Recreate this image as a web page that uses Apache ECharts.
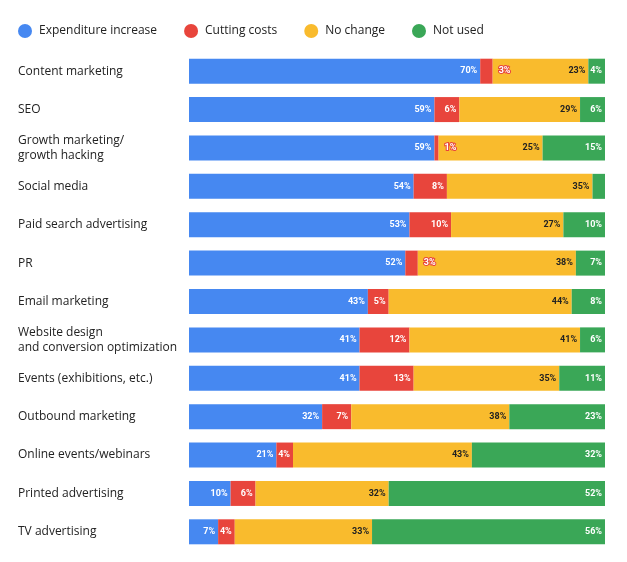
<!DOCTYPE html>
<html>
<head>
<meta charset="utf-8">
<script src="https://cdn.jsdelivr.net/npm/echarts@6/dist/echarts.min.js"></script>
<style>
  html, body { margin: 0; padding: 0; background: #fff; }
  #chart { width: 627px; height: 562px; }
</style>
</head>
<body>
<div id="chart"></div>
<script>
// categories, top to bottom
const categories = [
  'Content marketing',
  'SEO',
  'Growth marketing/\ngrowth hacking',
  'Social media',
  'Paid search advertising',
  'PR',
  'Email marketing',
  'Website design\nand conversion optimization',
  'Events (exhibitions, etc.)',
  'Outbound marketing',
  'Online events/webinars',
  'Printed advertising',
  'TV advertising'
];

const seriesNames = ['Expenditure increase', 'Cutting costs', 'No change', 'Not used'];

const increase = [70, 59, 59, 54, 53, 52, 43, 41, 41, 32, 21, 10, 7];
const cutting  = [3, 6, 1, 8, 10, 3, 5, 12, 13, 7, 4, 6, 4];
const noChange = [23, 29, 25, 35, 27, 38, 44, 41, 35, 38, 43, 32, 33];
const notUsed  = [4, 6, 15, 3, 10, 7, 8, 6, 11, 23, 32, 52, 56];

const colors = ['#4688f1', '#e8453c', '#f9bb2d', '#3aa757'];
const labelColors = ['#fff', '#fff', '#222', '#fff'];

const chart = echarts.init(document.getElementById('chart'));

// tiny red segments get their label pushed into the yellow part
function makeData(values, idx) {
  return values.map(v => {
    if (idx === 1 && v <= 3) {
      return {
        value: v,
        label: {
          position: 'right',
          distance: 6,
          color: '#fff',
          textBorderColor: '#e8453c',
          textBorderWidth: 2
        }
      };
    }
    if (idx === 3 && v <= 3) {
      return { value: v, label: { show: false } };
    }
    return v;
  });
}

const allValues = [increase, cutting, noChange, notUsed];

chart.setOption({
  animation: false,
  textStyle: { fontFamily: 'Open Sans' },
  legend: {
    top: 19,
    left: 13,
    icon: 'circle',
    itemWidth: 14,
    itemHeight: 14,
    itemGap: 27,
    data: seriesNames,
    textStyle: { fontSize: 12, color: '#222', fontFamily: 'Open Sans', padding: [0, 0, 0, 2] }
  },
  grid: { left: 189, right: 22, top: 52, bottom: 11 },
  xAxis: {
    type: 'value',
    min: 0,
    max: 100,
    show: false
  },
  yAxis: {
    type: 'category',
    inverse: true,
    data: categories,
    axisLine: { show: false },
    axisTick: { show: false },
    axisLabel: {
      align: 'left',
      margin: 171,
      fontSize: 12,
      lineHeight: 15,
      color: '#222',
      fontFamily: 'Open Sans'
    }
  },
  series: seriesNames.map((name, i) => ({
    name: name,
    type: 'bar',
    stack: 'total',
    barWidth: 25,
    itemStyle: { color: colors[i] },
    label: {
      show: true,
      position: 'insideRight',
      distance: 3,
      formatter: '{c}%',
      fontSize: 9,
      fontWeight: 'bold',
      fontFamily: 'Roboto',
      color: labelColors[i]
    },
    data: makeData(allValues[i], i)
  }))
});
</script>
</body>
</html>
